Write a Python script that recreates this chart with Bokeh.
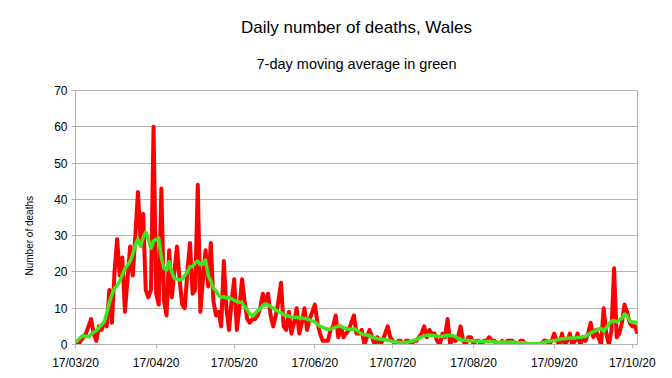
import pandas as pd
from bokeh.plotting import figure
from bokeh.models import Title, FixedTicker, DatetimeTickFormatter, Range1d, ColumnDataSource
from bokeh.embed import file_html
from bokeh.resources import INLINE

start_date = "2020-03-17"

deaths = [
    1, 0, 1, 2, 3, 5, 7, 3, 1, 5, 4, 6, 5, 15, 6, 20, 29, 19, 24, 9,
    18, 27, 19, 30, 42, 29, 36, 15, 13, 15, 60, 14, 11, 43, 12, 8, 26, 13, 20, 27,
    18, 11, 10, 20, 28, 14, 15, 44, 9, 18, 26, 16, 28, 12, 8, 9, 5, 23, 10, 4,
    12, 18, 4, 10, 18, 12, 7, 6, 7, 7, 8, 10, 14, 11, 14, 8, 5, 8, 12, 17,
    5, 4, 9, 3, 6, 10, 3, 6, 10, 4, 7, 9, 11, 6, 3, 1, 1, 1, 4, 5,
    8, 2, 5, 2, 3, 4, 6, 8, 3, 3, 4, 0, 2, 4, 2, 0, 2, 0, 1, 3,
    5, 2, 1, 0, 1, 1, 0, 1, 1, 0, 1, 1, 2, 3, 5, 2, 4, 3, 3, 1,
    0, 3, 2, 7, 0, 2, 1, 2, 5, 1, 0, 2, 2, 0, 1, 1, 0, 1, 1, 2,
    1, 1, 0, 0, 1, 0, 1, 1, 1, 0, 0, 1, 1, 0, 0, 0, 0, 0, 0, 0,
    1, 1, 0, 1, 3, 1, 0, 3, 0, 1, 3, 0, 1, 3, 0, 2, 1, 3, 6, 2,
    4, 2, 0, 10, 3, 0, 4, 21, 2, 3, 6, 11, 9, 6, 5, 5, 3,
]

moving_avg = [
    0.7, 1.2, 2.0, 2.5, 2.2, 2.1, 2.8, 3.4, 3.8, 4.6, 5.4, 6.2, 8.5, 11.5, 13.8, 15.5, 16.3, 17.4, 19.2, 21.0,
    21.8, 23.0, 24.8, 27.5, 29.0, 27.0, 29.5, 31.0, 29.0, 26.5, 28.5, 29.0, 29.3, 24.0, 21.0, 20.5, 22.8, 20.0, 18.2, 18.0,
    17.8, 18.0, 19.0, 20.0, 21.4, 21.5, 22.5, 23.0, 22.0, 22.2, 23.3, 19.0, 17.5, 15.5, 14.8, 13.5, 13.0, 13.2, 12.8, 13.0,
    12.6, 12.2, 11.8, 11.7, 11.5, 10.5, 9.5, 8.5, 7.8, 8.5, 9.3, 9.8, 10.8, 11.2, 10.9, 10.5, 10.0, 9.5, 9.0, 8.8,
    8.2, 8.0, 7.8, 7.6, 7.5, 7.5, 7.3, 7.3, 7.2, 7.0, 6.8, 6.5, 6.2, 5.6, 5.0, 4.7, 4.4, 4.2, 4.2, 4.5,
    4.8, 5.0, 5.0, 4.6, 4.4, 4.2, 4.2, 4.3, 4.0, 3.4, 2.9, 2.7, 2.6, 2.4, 2.0, 1.8, 1.6, 1.5, 1.4, 1.3,
    1.2, 1.0, 0.8, 0.7, 0.6, 0.6, 0.5, 0.6, 0.7, 0.9, 1.1, 1.4, 1.8, 2.1, 2.3, 2.5, 2.6, 2.5, 2.4, 2.3,
    2.3, 2.2, 2.4, 2.5, 2.5, 2.4, 2.2, 1.6, 1.3, 1.2, 1.2, 1.1, 1.0, 1.0, 0.9, 0.9, 0.8, 0.8, 0.8, 0.9,
    0.8, 0.7, 0.6, 0.6, 0.7, 0.6, 0.6, 0.6, 0.7, 0.6, 0.5, 0.5, 0.5, 0.4, 0.3, 0.2, 0.2, 0.2, 0.3, 0.4,
    0.6, 0.8, 0.9, 1.0, 1.1, 1.2, 1.4, 1.6, 1.6, 1.7, 1.8, 1.8, 1.8, 1.9, 2.0, 2.1, 2.2, 2.7, 3.2, 3.5,
    3.9, 4.3, 4.4, 3.6, 4.6, 5.6, 6.4, 6.6, 6.2, 6.8, 7.2, 8.4, 8.0, 6.4, 6.2, 6.2, 5.7,
]

tick_dates = ["2020-03-17", "2020-04-17", "2020-05-17", "2020-06-17",
              "2020-07-17", "2020-08-17", "2020-09-17", "2020-10-17"]
y_ticks = [0, 10, 20, 30, 40, 50, 60, 70]

title_text = "Daily number of deaths, Wales"
subtitle_text = "7-day moving average in green"
y_label = "Number of deaths"

dates = pd.date_range(start_date, periods=len(deaths), freq="D")
src = ColumnDataSource(dict(date=dates, deaths=deaths, avg=moving_avg))

FONT = "Liberation Sans"
GRID = "#b3b3b3"

p = figure(width=656, height=372, x_axis_type="datetime",
           output_backend="svg", toolbar_location=None,
           x_range=Range1d(dates[0], dates[-1]), y_range=Range1d(y_ticks[0], y_ticks[-1]),
           min_border_left=75, min_border_right=19, min_border_top=90, min_border_bottom=26)

p.add_layout(Title(text=subtitle_text, align="center", vertical_align="top",
                   text_font=FONT, text_font_size="14.5px",
                   text_font_style="normal", text_color="#000000", standoff=33), "above")
p.add_layout(Title(text=title_text, align="center", vertical_align="bottom",
                   text_font=FONT, text_font_size="17px",
                   text_font_style="normal", text_color="#000000", standoff=5), "above")
p.add_layout(Title(text=y_label, align="left", vertical_align="bottom", offset=69,
                   text_font=FONT, text_font_size="10px",
                   text_font_style="normal", text_color="#000000", standoff=34), "left")

p.line("date", "deaths", source=src, color="#ff0000", line_width=4, line_join="round")
p.line("date", "avg", source=src, color="#3de61c", line_width=3.5, line_join="round")

tick_ms = [pd.Timestamp(d).value / 1e6 for d in tick_dates]
p.xaxis.ticker = FixedTicker(ticks=tick_ms)
fmt = "%d/%m/%y"
p.xaxis.formatter = DatetimeTickFormatter(days=fmt, months=fmt, years=fmt, hours=fmt,
                                          hourmin=fmt, minutes=fmt, seconds=fmt,
                                          milliseconds=fmt, minsec=fmt)
p.yaxis.ticker = FixedTicker(ticks=y_ticks)

for ax in (p.xaxis, p.yaxis):
    ax.axis_line_color = GRID
    ax.major_tick_line_color = GRID
    ax.minor_tick_line_color = None
    ax.major_tick_in = 0
    ax.major_tick_out = 4
    ax.major_label_text_font = FONT
    ax.major_label_text_font_size = "12px"
    ax.major_label_text_color = "#000000"
p.xaxis.major_label_standoff = 7
p.yaxis.major_label_standoff = 4

p.xgrid.visible = False
p.ygrid.grid_line_color = GRID
p.outline_line_color = GRID
p.background_fill_color = "white"
p.border_fill_color = "white"

open("out.html", "w").write(file_html(p, INLINE))
